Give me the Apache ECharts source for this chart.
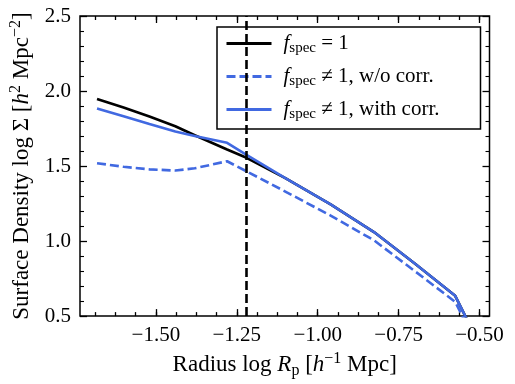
<!DOCTYPE html>
<html>
<head>
<meta charset="utf-8">
<script src="https://cdn.jsdelivr.net/npm/echarts@6/dist/echarts.min.js"></script>
<style>
  html, body { margin: 0; padding: 0; background: #fff; }
  #main { width: 515px; height: 384px; }
</style>
</head>
<body>
<div id="main"></div>
<script>
// radius bins (log R_p) and surface density curves (log Sigma)
const radius      = [-1.682, -1.60, -1.52, -1.44, -1.38, -1.28, -1.22, -1.10, -0.96, -0.826, -0.70, -0.575, -0.53];
const fspecOne    = [1.947, 1.890, 1.830, 1.765, 1.705, 1.610, 1.555, 1.420, 1.245, 1.060, 0.850, 0.635, 0.440];
const fspecNoCorr = [1.519, 1.495, 1.478, 1.470, 1.485, 1.532, 1.465, 1.330, 1.170, 1.005, 0.800, 0.595, 0.400];
const fspecCorr   = [1.884, 1.832, 1.780, 1.730, 1.700, 1.655, 1.575, 1.420, 1.245, 1.060, 0.850, 0.635, 0.440];
const cutRadius = -1.2246;

const xTicks = [-1.50, -1.25, -1.00, -0.75, -0.50];
// matplotlib auto minor ticks: 4 divisions per 0.25
const xMinorTicks = [];
for (let k = -27; k <= -8; k++) xMinorTicks.push(k * 0.0625);

const legendNames = ['f1', 'f2', 'f3'];
const legendText = {
  f1: '{f|f}{s|spec}{t| = 1}',
  f2: '{f|f}{s|spec}{t| ≠ 1, w/o corr.}',
  f3: '{f|f}{s|spec}{t| ≠ 1, with corr.}'
};

const FONT = 'Liberation Serif';
const BLUE = '#4169E1';

const richText = {
  t: { fontFamily: FONT, fontSize: 23, lineHeight: 28, color: '#000' },
  i: { fontFamily: FONT, fontSize: 23, lineHeight: 28, fontStyle: 'italic', color: '#000' },
  sub: { fontFamily: FONT, fontSize: 16, verticalAlign: 'bottom', color: '#000' },
  sup: { fontFamily: FONT, fontSize: 16, verticalAlign: 'top', color: '#000' }
};

const toPairs = ys => radius.map((x, i) => [x, ys[i]]);
const fmtX = v => (v < 0 ? '\u2212' : '') + Math.abs(v).toFixed(2);

const chartDom = document.getElementById('main');
const myChart = echarts.init(chartDom);

const X_MIN = -1.7346, X_MAX = -0.469;

// one bottom/top axis pair for major ticks, another for minor ticks
function xAxisDef(position, ticks, len, withLabel, extra) {
  return Object.assign({
    type: 'value',
    position: position,
    min: X_MIN,
    max: X_MAX,
    axisLine: { show: false },
    splitLine: { show: false },
    axisTick: { show: true, inside: true, length: len, customValues: ticks, lineStyle: { color: '#000', width: 1.3 } },
    axisLabel: withLabel ? {
      show: true, customValues: xTicks, formatter: fmtX, margin: 9,
      fontFamily: FONT, fontSize: 21, color: '#000'
    } : { show: false }
  }, extra || {});
}

function yAxisDef(position, withLabel) {
  return {
    type: 'value',
    position: position,
    min: 0.5,
    max: 2.5,
    interval: 0.5,
    axisLine: { show: false },
    splitLine: { show: false },
    axisTick: { show: true, inside: true, length: 7, lineStyle: { color: '#000', width: 1.3 } },
    minorTick: { show: true, splitNumber: 5, length: 4, lineStyle: { color: '#000', width: 1.1 } },
    axisLabel: withLabel ? {
      show: true, margin: 9, formatter: v => v.toFixed(1),
      fontFamily: FONT, fontSize: 21, color: '#000'
    } : { show: false },
    name: withLabel ? '{t|Surface Density log Σ [}{i|h}{sup|2}{t| Mpc}{sup|−2}{t|]}' : '',
    nameLocation: 'middle',
    nameRotate: 90,
    nameGap: 44,
    nameTextStyle: { rich: richText }
  };
}

const option = {
  animation: false,
  backgroundColor: '#fff',
  grid: {
    left: 77, right: 25.5, top: 16, bottom: 67,
    show: true, borderColor: '#000', borderWidth: 1.5, backgroundColor: 'transparent'
  },
  legend: {
    data: legendNames,
    orient: 'vertical',
    left: 217,
    top: 27,
    backgroundColor: '#fff',
    borderColor: '#000',
    borderWidth: 1.5,
    borderRadius: 0,
    padding: [6, 41, 7, 8],
    itemWidth: 45,
    itemHeight: 14,
    itemGap: 10,
    itemStyle: { opacity: 0 },
    lineStyle: { width: 3 },
    selectedMode: false,
    formatter: name => legendText[name],
    textStyle: {
      fontFamily: FONT,
      fontSize: 21,
      color: '#000',
      rich: {
        f: { fontFamily: FONT, fontSize: 21, lineHeight: 25, fontStyle: 'italic', padding: [0, 0, 0, 7] },
        s: { fontFamily: FONT, fontSize: 15, verticalAlign: 'bottom' },
        t: { fontFamily: FONT, fontSize: 21, lineHeight: 25 }
      }
    }
  },
  xAxis: [
    xAxisDef('bottom', xTicks, 7, true, {
      name: '{t|Radius log }{i|R}{sub|p}{t| [}{i|h}{sup|−1}{t| Mpc]}',
      nameLocation: 'middle',
      nameGap: 30,
      nameTextStyle: { rich: richText }
    }),
    xAxisDef('bottom', xMinorTicks, 4, false),
    xAxisDef('top', xTicks, 7, false),
    xAxisDef('top', xMinorTicks, 4, false)
  ],
  yAxis: [
    yAxisDef('left', true),
    yAxisDef('right', false)
  ],
  series: [
    {
      name: 'f1',
      type: 'line',
      symbol: 'none',
      data: toPairs(fspecOne),
      lineStyle: { color: '#000', width: 2.6 },
      itemStyle: { color: '#000' },
      markLine: {
        silent: true,
        symbol: 'none',
        label: { show: false },
        lineStyle: { color: '#000', width: 2.6, type: [9, 4] },
        data: [{ xAxis: cutRadius }]
      }
    },
    {
      name: 'f2',
      type: 'line',
      symbol: 'none',
      data: toPairs(fspecNoCorr),
      lineStyle: { color: BLUE, width: 2.6, type: [9, 4] },
      itemStyle: { color: BLUE }
    },
    {
      name: 'f3',
      type: 'line',
      symbol: 'none',
      data: toPairs(fspecCorr),
      lineStyle: { color: BLUE, width: 2.6 },
      itemStyle: { color: BLUE }
    }
  ]
};

myChart.setOption(option);
</script>
</body>
</html>
